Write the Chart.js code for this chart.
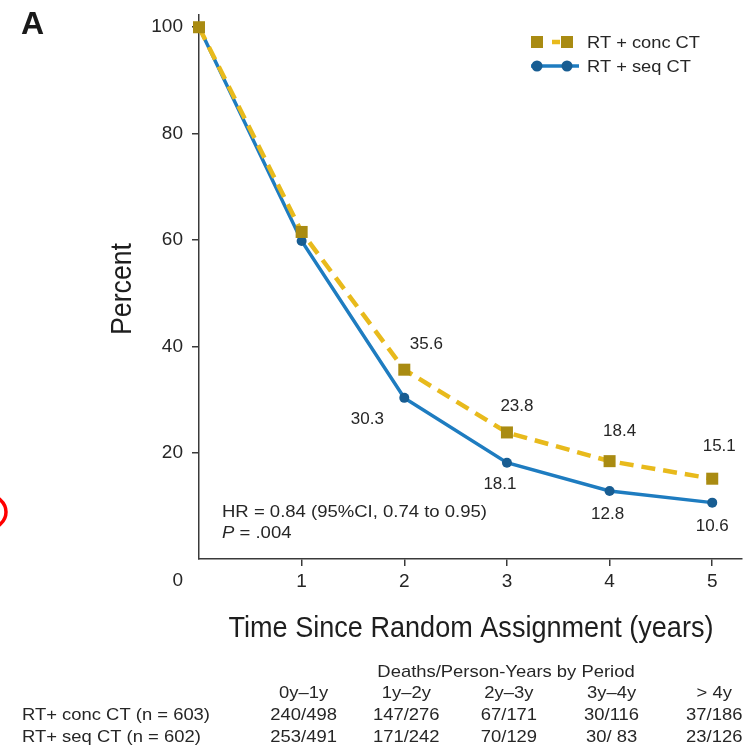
<!DOCTYPE html>
<html>
<head>
<meta charset="utf-8">
<script src="https://cdn.jsdelivr.net/npm/chart.js@4"></script>
<style>
  html, body { margin: 0; padding: 0; background: #ffffff; }
  #wrap { position: relative; width: 754px; height: 748px; }
  canvas { display: block; }
</style>
</head>
<body>
<div id="wrap"><canvas id="c" width="754" height="748"></canvas></div>
<script>
// ---------- data ----------
const years = [0, 1, 2, 3, 4, 5];
const concValues = [100, 61.5, 35.6, 23.8, 18.4, 15.1];
const seqValues = [100, 59.8, 30.3, 18.1, 12.8, 10.6];
const labelledIdx = [2, 3, 4, 5];
const xTickValues = [1, 2, 3, 4, 5];
const yTickValues = [20, 40, 60, 80, 100];
const seriesNames = ['RT + conc CT', 'RT + seq CT'];
const xTitle = 'Time Since Random Assignment (years)';
const yTitle = 'Percent';
const hrText = 'HR = 0.84 (95%CI, 0.74 to 0.95)';
const pText = ' = .004';
const tableTitle = 'Deaths/Person-Years by Period';
const periodHeaders = ['0y\u20131y', '1y\u20132y', '2y\u20133y', '3y\u20134y', '> 4y'];
const rowLabels = ['RT+ conc CT (n = 603)', 'RT+ seq CT (n = 602)'];
const concDeaths = ['240/498', '147/276', '67/171', '30/116', '37/186'];
const seqDeaths = ['253/491', '171/242', '70/129', '30/ 83', '23/126'];

// ---------- styles ----------
const SANS = '"Liberation Sans", Arial, Helvetica, sans-serif';
const TEXT = '#262626';
const AXIS = '#3a3a3a';
const CONC_LINE = '#E8BA1C';
const CONC_PT = '#A98B12';
const SEQ_LINE = '#1E7CC0';
const SEQ_PT = '#185D92';
// label offsets relative to point (style only)
const concLabelOff = [[22, -25], [10, -26], [10, -30], [7, -32]];
const seqLabelOff = [[-37, 21], [-7, 22], [-2, 23], [0, 24]];

function condText(ctx, text, x, y, align, sx) {
  ctx.save();
  ctx.translate(x, y);
  ctx.scale(sx, 1);
  ctx.textAlign = align;
  ctx.fillText(text, 0, 0);
  ctx.restore();
}

const overlay = {
  id: 'overlay',
  afterDraw(chart) {
    const ctx = chart.ctx;
    const xs = chart.scales.x, ys = chart.scales.y;
    ctx.save();
    ctx.fillStyle = TEXT;
    ctx.textBaseline = 'middle';

    // Panel letter
    ctx.font = 'bold 32px ' + SANS;
    ctx.textAlign = 'left';
    ctx.fillStyle = '#1a1a1a';
    ctx.fillText('A', 21, 25);

    // origin "0"
    ctx.fillStyle = TEXT;
    ctx.font = '19px ' + SANS;
    ctx.textAlign = 'right';
    ctx.fillText('0', xs.getPixelForValue(0) - 16, ys.getPixelForValue(0) + 22);

    // data labels
    ctx.font = '17px ' + SANS;
    ctx.textAlign = 'center';
    labelledIdx.forEach((i, k) => {
      const px = xs.getPixelForValue(years[i]);
      ctx.fillText(concValues[i].toFixed(1), px + concLabelOff[k][0], ys.getPixelForValue(concValues[i]) + concLabelOff[k][1]);
      ctx.fillText(seqValues[i].toFixed(1), px + seqLabelOff[k][0], ys.getPixelForValue(seqValues[i]) + seqLabelOff[k][1]);
    });

    // HR annotation
    ctx.textAlign = 'left';
    ctx.font = '16px ' + SANS;
    const hrSx = 265 / ctx.measureText(hrText).width;
    condText(ctx, hrText, 222, 513, 'left', hrSx);
    ctx.font = 'italic 16px ' + SANS;
    condText(ctx, 'P', 222, 534, 'left', hrSx);
    const pw = ctx.measureText('P').width * hrSx;
    ctx.font = '16px ' + SANS;
    condText(ctx, pText, 222 + pw, 534, 'left', hrSx);

    // legend
    const lx1 = 537, lx2 = 567;
    ctx.strokeStyle = CONC_LINE;
    ctx.lineWidth = 4.5;
    ctx.beginPath(); ctx.moveTo(lx1, 42); ctx.lineTo(lx2, 42); ctx.setLineDash([0, 15, 8, 100]); ctx.stroke();
    ctx.setLineDash([]);
    ctx.fillStyle = CONC_PT;
    ctx.fillRect(lx1 - 6, 42 - 6, 12, 12);
    ctx.fillRect(lx2 - 6, 42 - 6, 12, 12);
    ctx.strokeStyle = SEQ_LINE;
    ctx.lineWidth = 3.5;
    ctx.beginPath(); ctx.moveTo(lx1 - 6, 66); ctx.lineTo(lx2 + 12, 66); ctx.stroke();
    ctx.fillStyle = SEQ_PT;
    [lx1, lx2].forEach(x => { ctx.beginPath(); ctx.arc(x, 66, 5.5, 0, Math.PI * 2); ctx.fill(); });
    ctx.fillStyle = TEXT;
    ctx.font = '17px ' + SANS;
    const legSx = 113 / ctx.measureText(seriesNames[0]).width;
    condText(ctx, seriesNames[0], 587, 43, 'left', legSx);
    condText(ctx, seriesNames[1], 587, 67, 'left', legSx);

    // axis titles (condensed)
    ctx.font = '29px ' + SANS;
    ctx.fillStyle = '#1e1e1e';
    const titleSx = 485 / ctx.measureText(xTitle).width;
    condText(ctx, xTitle, 471, 629, 'center', titleSx);
    const ySx = 92 / ctx.measureText(yTitle).width;
    ctx.save();
    ctx.translate(123, 289);
    ctx.rotate(-Math.PI / 2);
    condText(ctx, yTitle, 0, 0, 'center', ySx);
    ctx.restore();

    // table
    ctx.fillStyle = TEXT;
    ctx.font = '17px ' + SANS;
    const tSx = 188 / ctx.measureText(rowLabels[0]).width;
    condText(ctx, tableTitle, 506, 672, 'center', tSx);
    periodHeaders.forEach((h, i) => {
      const cx = xs.getPixelForValue(xTickValues[i]) + 2;
      condText(ctx, h, cx, 693, 'center', tSx);
      condText(ctx, concDeaths[i], cx, 715, 'center', tSx);
      condText(ctx, seqDeaths[i], cx, 737, 'center', tSx);
    });
    condText(ctx, rowLabels[0], 22, 715, 'left', tSx);
    condText(ctx, rowLabels[1], 22, 737, 'left', tSx);

    // red circle mark at left edge
    ctx.strokeStyle = '#ff0000';
    ctx.lineWidth = 3.5;
    ctx.beginPath();
    ctx.ellipse(-13, 512, 19, 17, 0, 0, Math.PI * 2);
    ctx.stroke();

    ctx.restore();
  }
};

const tickFont = { family: SANS, size: 19 };

new Chart(document.getElementById('c'), {
  type: 'line',
  data: {
    datasets: [
      {
        label: seriesNames[0],
        data: years.map((x, i) => ({ x, y: concValues[i] })),
        borderColor: CONC_LINE,
        borderWidth: 4.5,
        borderDash: [14, 8],
        pointStyle: 'rect',
        pointRadius: 8.5,
        pointBackgroundColor: CONC_PT,
        pointBorderColor: CONC_PT,
        pointBorderWidth: 0,
        tension: 0,
        fill: false,
        clip: false,
        order: 0
      },
      {
        label: seriesNames[1],
        data: years.map((x, i) => ({ x, y: seqValues[i] })),
        borderColor: SEQ_LINE,
        borderWidth: 3.5,
        pointStyle: 'circle',
        pointRadius: 5,
        pointBackgroundColor: SEQ_PT,
        pointBorderColor: SEQ_PT,
        pointBorderWidth: 0,
        tension: 0,
        fill: false,
        clip: false,
        order: 1
      }
    ]
  },
  options: {
    responsive: false,
    animation: false,
    layout: { padding: { top: 15, left: 0, right: 12, bottom: 149 } },
    plugins: { legend: { display: false }, tooltip: { enabled: false } },
    scales: {
      x: {
        type: 'linear',
        min: 0,
        max: 5.29,
        afterBuildTicks: s => { s.ticks = xTickValues.map(v => ({ value: v })); },
        afterFit: s => { s.height = 40; s.paddingLeft = 0; s.paddingRight = 0; },
        grid: { display: true, drawOnChartArea: false, drawTicks: true, tickLength: 7, color: AXIS, lineWidth: 1.5 },
        border: { display: true, color: AXIS, width: 1.5 },
        ticks: { font: tickFont, color: TEXT, padding: 4, maxRotation: 0, autoSkip: false }
      },
      y: {
        type: 'linear',
        min: 0,
        max: 102.3,
        afterBuildTicks: s => { s.ticks = yTickValues.map(v => ({ value: v })); },
        afterFit: s => { s.width = 199; s.paddingTop = 0; s.paddingBottom = 0; },
        grid: { display: true, drawOnChartArea: false, drawTicks: true, tickLength: 7, color: AXIS, lineWidth: 1.5 },
        border: { display: true, color: AXIS, width: 1.5 },
        ticks: { font: tickFont, color: TEXT, padding: 9 }
      }
    }
  },
  plugins: [overlay]
});
</script>
</body>
</html>
